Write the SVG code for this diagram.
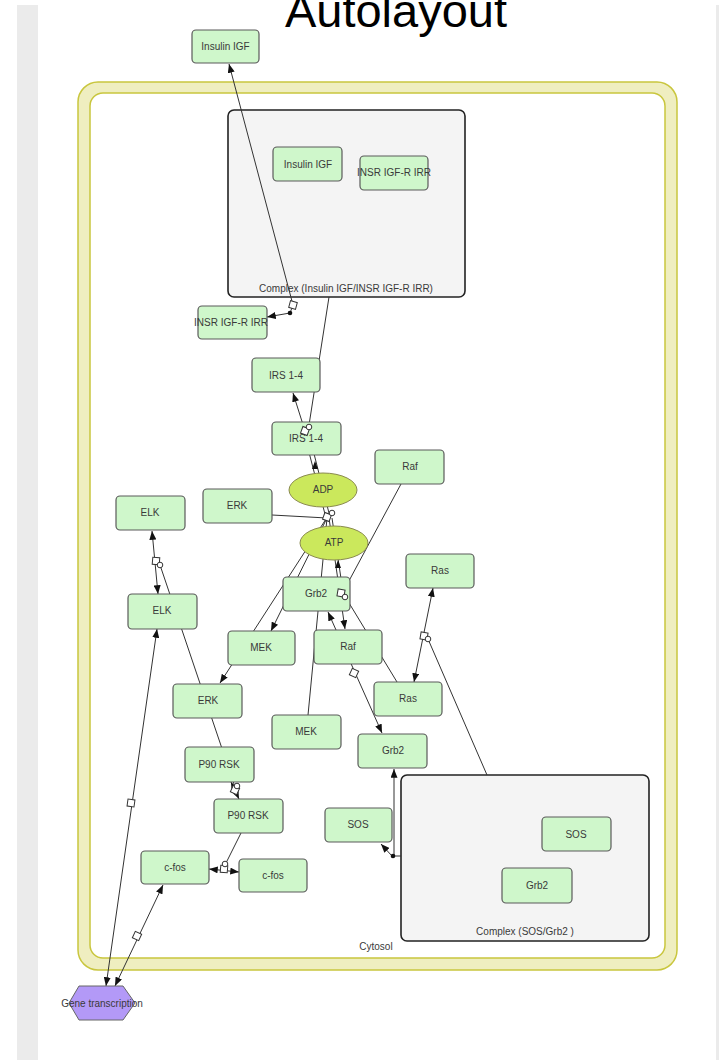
<svg xmlns="http://www.w3.org/2000/svg" width="719" height="1060" viewBox="0 0 719 1060">
  <style>
    .node { fill: #cff7cb; stroke: #5a5a5a; stroke-width: 1.2; }
    .cplx { fill: #f4f4f4; stroke: #222; stroke-width: 1.6; }
    .met { fill: #cbe85c; stroke: #8a8a50; stroke-width: 1; }
    .lbl { font-family: "Liberation Sans", Arial, sans-serif; font-size: 10px; fill: #3a3a3a; text-anchor: middle; }
    .ln { fill: none; stroke: #333; stroke-width: 1; }
    .anc { fill: #fff; stroke: #333; stroke-width: 1; }
    .cat { fill: #fff; stroke: #333; stroke-width: 1; }
    .dot { fill: #111; }
  </style>
  <defs>
    <marker id="arr" viewBox="0 0 10 8" refX="10" refY="4" markerWidth="9" markerHeight="7" markerUnits="userSpaceOnUse" orient="auto-start-reverse">
      <path d="M0,0 L10,4 L0,8 z" fill="#111"/>
    </marker>
  </defs>

  <rect width="719" height="1060" fill="#fff"/>
  <rect x="17" y="5" width="21" height="1055" fill="#ebebeb"/>
  <rect x="716" y="5" width="3" height="1055" fill="#ebebeb"/>

  <text x="396" y="27" font-family="Liberation Sans, Arial, sans-serif" font-size="47" fill="#000" text-anchor="middle">Autolayout</text>

  <!-- cytosol compartment -->
  <g id="cytosol">
    <rect x="78" y="82" width="599" height="888" rx="20" fill="#efeec0" stroke="#c9c63e" stroke-width="1.5"/>
    <rect x="90" y="93" width="575" height="865" rx="13" fill="#fff" stroke="#c9c63e" stroke-width="1.5"/>
    <text class="lbl" x="376" y="950">Cytosol</text>
  </g>

  <!-- complexes -->
  <g id="complex-insulin">
    <rect class="cplx" x="228" y="110" width="237" height="187" rx="6"/>
    <text class="lbl" x="346" y="292">Complex (Insulin IGF/INSR IGF-R IRR)</text>
  </g>
  <g id="complex-sos">
    <rect class="cplx" x="401" y="775" width="248" height="166" rx="6"/>
    <text class="lbl" x="525" y="935">Complex (SOS/Grb2 )</text>
  </g>

  <!-- connectors -->
  <g id="connectors">
    <line class="ln" x1="293" y1="305" x2="229" y2="64" marker-end="url(#arr)"/>
    <polyline class="ln" points="293,305 290,313 267,317" marker-end="url(#arr)"/>
    <circle class="dot" cx="290" cy="313" r="2.3"/>
    <line class="ln" x1="329" y1="297" x2="309" y2="425"/>
    <line class="ln" x1="305" y1="431" x2="293" y2="393" marker-end="url(#arr)"/>
    <line class="ln" x1="304" y1="433" x2="326" y2="518"/>
    <line class="ln" x1="308" y1="430" x2="330" y2="517"/>
    <path d="M310,443 L313,451 L307,451 z" fill="#111"/>
    <path d="M315,461 L318,469 L312,469 z" fill="#111"/>
    <line class="ln" x1="272" y1="515" x2="327" y2="518"/>
    <line class="ln" x1="327" y1="518" x2="271" y2="631" marker-end="url(#arr)"/>
    <line class="ln" x1="326" y1="519" x2="220" y2="683" marker-end="url(#arr)"/>
    <line class="ln" x1="308" y1="715" x2="327" y2="518"/>
    <line class="ln" x1="329" y1="518" x2="345" y2="629" marker-end="url(#arr)"/>
    <line class="ln" x1="332" y1="518" x2="343" y2="592"/>
    <path d="M338,560 L341,568 L335,568 z" fill="#111"/>
    <line class="ln" x1="401" y1="484" x2="343" y2="592"/>
    <line class="ln" x1="397" y1="682" x2="346" y2="598"/>
    <line class="ln" x1="328" y1="612" x2="382" y2="733" marker-start="url(#arr)" marker-end="url(#arr)"/>
    <line class="ln" x1="433" y1="588" x2="414" y2="682" marker-start="url(#arr)" marker-end="url(#arr)"/>
    <line class="ln" x1="428" y1="639" x2="487" y2="775"/>
    <polyline class="ln" points="401,856 394,856 394,769" marker-end="url(#arr)"/>
    <line class="ln" x1="392" y1="856" x2="381" y2="844" marker-end="url(#arr)"/>
    <circle class="dot" cx="393" cy="856" r="2.3"/>
    <line class="ln" x1="152" y1="531" x2="158" y2="594" marker-start="url(#arr)" marker-end="url(#arr)"/>
    <line class="ln" x1="160" y1="565" x2="236" y2="790"/>
    <line class="ln" x1="231" y1="782" x2="239" y2="799" marker-start="url(#arr)" marker-end="url(#arr)"/>
    <line class="ln" x1="241" y1="833" x2="225" y2="865"/>
    <line class="ln" x1="209" y1="869" x2="239" y2="872" marker-start="url(#arr)" marker-end="url(#arr)"/>
    <line class="ln" x1="163" y1="885" x2="115" y2="986" marker-start="url(#arr)" marker-end="url(#arr)"/>
    <line class="ln" x1="157" y1="629" x2="106" y2="986" marker-start="url(#arr)" marker-end="url(#arr)"/>
  </g>

  <!-- nodes -->
  <g id="insulin-igf-ext"><rect class="node" x="192" y="30" width="67" height="33" rx="4"/><text class="lbl" x="225.5" y="50">Insulin IGF</text></g>
  <g id="insulin-igf-cplx"><rect class="node" x="273" y="147" width="69" height="34" rx="4"/><text class="lbl" x="308" y="168">Insulin IGF</text></g>
  <g id="insr-cplx"><rect class="node" x="360" y="156" width="68" height="34" rx="4"/><text class="lbl" x="394" y="176">INSR IGF-R IRR</text></g>
  <g id="insr"><rect class="node" x="198" y="306" width="69" height="33" rx="4"/><text class="lbl" x="231" y="326">INSR IGF-R IRR</text></g>
  <g id="irs-a"><rect class="node" x="252" y="358" width="68" height="34" rx="4"/><text class="lbl" x="286" y="379">IRS 1-4</text></g>
  <g id="irs-b"><rect class="node" x="272" y="422" width="69" height="33" rx="4"/><text class="lbl" x="306" y="442">IRS 1-4</text></g>
  <g id="raf-a"><rect class="node" x="375" y="450" width="69" height="34" rx="4"/><text class="lbl" x="410" y="470">Raf</text></g>
  <g id="erk-a"><rect class="node" x="203" y="489" width="69" height="34" rx="4"/><text class="lbl" x="237" y="509">ERK</text></g>
  <g id="elk-a"><rect class="node" x="116" y="496" width="69" height="34" rx="4"/><text class="lbl" x="150" y="516">ELK</text></g>
  <g id="adp"><ellipse class="met" cx="323" cy="490" rx="34" ry="17"/><text class="lbl" x="323" y="493">ADP</text></g>
  <g id="atp"><ellipse class="met" cx="334" cy="543" rx="34" ry="17"/><text class="lbl" x="334" y="546">ATP</text></g>
  <g id="ras-a"><rect class="node" x="406" y="554" width="68" height="34" rx="4"/><text class="lbl" x="440" y="574">Ras</text></g>
  <g id="grb2-a"><rect class="node" x="283" y="577" width="67" height="34" rx="4"/><text class="lbl" x="316" y="597">Grb2</text></g>
  <g id="elk-b"><rect class="node" x="128" y="594" width="69" height="35" rx="4"/><text class="lbl" x="162" y="614">ELK</text></g>
  <g id="mek-a"><rect class="node" x="228" y="631" width="67" height="34" rx="4"/><text class="lbl" x="261" y="651">MEK</text></g>
  <g id="raf-b"><rect class="node" x="314" y="630" width="68" height="34" rx="4"/><text class="lbl" x="348" y="650">Raf</text></g>
  <g id="erk-b"><rect class="node" x="173" y="684" width="69" height="34" rx="4"/><text class="lbl" x="208" y="704">ERK</text></g>
  <g id="ras-b"><rect class="node" x="374" y="682" width="68" height="34" rx="4"/><text class="lbl" x="408" y="702">Ras</text></g>
  <g id="mek-b"><rect class="node" x="272" y="715" width="69" height="34" rx="4"/><text class="lbl" x="306" y="735">MEK</text></g>
  <g id="grb2-b"><rect class="node" x="358" y="734" width="69" height="34" rx="4"/><text class="lbl" x="393" y="754">Grb2</text></g>
  <g id="p90-a"><rect class="node" x="185" y="747" width="69" height="35" rx="4"/><text class="lbl" x="219" y="768">P90 RSK</text></g>
  <g id="p90-b"><rect class="node" x="214" y="799" width="69" height="34" rx="4"/><text class="lbl" x="248" y="819">P90 RSK</text></g>
  <g id="sos-a"><rect class="node" x="325" y="808" width="67" height="34" rx="4"/><text class="lbl" x="358" y="828">SOS</text></g>
  <g id="sos-cplx"><rect class="node" x="542" y="817" width="69" height="34" rx="4"/><text class="lbl" x="576" y="838">SOS</text></g>
  <g id="grb2-cplx"><rect class="node" x="502" y="868" width="70" height="35" rx="4"/><text class="lbl" x="537" y="889">Grb2</text></g>
  <g id="cfos-a"><rect class="node" x="141" y="851" width="68" height="33" rx="4"/><text class="lbl" x="175" y="871">c-fos</text></g>
  <g id="cfos-b"><rect class="node" x="239" y="859" width="68" height="33" rx="4"/><text class="lbl" x="273" y="879">c-fos</text></g>
  <g id="gene-transcription">
    <polygon points="69,1003 79,986 123,986 135,1003 123,1020 79,1020" fill="#b399f7" stroke="#666" stroke-width="1"/>
    <text class="lbl" x="102" y="1007">Gene transcription</text>
  </g>

  <!-- reaction anchors and catalysis ends -->
  <g id="anchors">
    <rect class="anc" x="-3.5" y="-3.5" width="7" height="7" transform="translate(293,305) rotate(15)"/>
    <rect class="anc" x="-3.5" y="-3.5" width="7" height="7" transform="translate(305,431) rotate(20)"/>
    <circle class="cat" cx="309" cy="427" r="2.8"/>
    <rect class="anc" x="-3.5" y="-3.5" width="7" height="7" transform="translate(327,517) rotate(20)"/>
    <circle class="cat" cx="332" cy="513" r="2.8"/>
    <rect class="anc" x="-3.5" y="-3.5" width="7" height="7" transform="translate(341,593) rotate(10)"/>
    <circle class="cat" cx="345" cy="597" r="2.8"/>
    <rect class="anc" x="-3.5" y="-3.5" width="7" height="7" transform="translate(354,673) rotate(25)"/>
    <rect class="anc" x="-3.5" y="-3.5" width="7" height="7" transform="translate(424,636) rotate(10)"/>
    <circle class="cat" cx="428" cy="639" r="2.8"/>
    <rect class="anc" x="-3.5" y="-3.5" width="7" height="7" transform="translate(156,561) rotate(5)"/>
    <circle class="cat" cx="160" cy="565" r="2.8"/>
    <rect class="anc" x="-3.5" y="-3.5" width="7" height="7" transform="translate(235,790) rotate(25)"/>
    <circle class="cat" cx="237" cy="786" r="2.8"/>
    <rect class="anc" x="-3.5" y="-3.5" width="7" height="7" transform="translate(224,869) rotate(5)"/>
    <circle class="cat" cx="225" cy="864" r="2.8"/>
    <rect class="anc" x="-3.5" y="-3.5" width="7" height="7" transform="translate(137,936) rotate(25)"/>
    <rect class="anc" x="-3.5" y="-3.5" width="7" height="7" transform="translate(131,803) rotate(8)"/>
  </g>
</svg>
